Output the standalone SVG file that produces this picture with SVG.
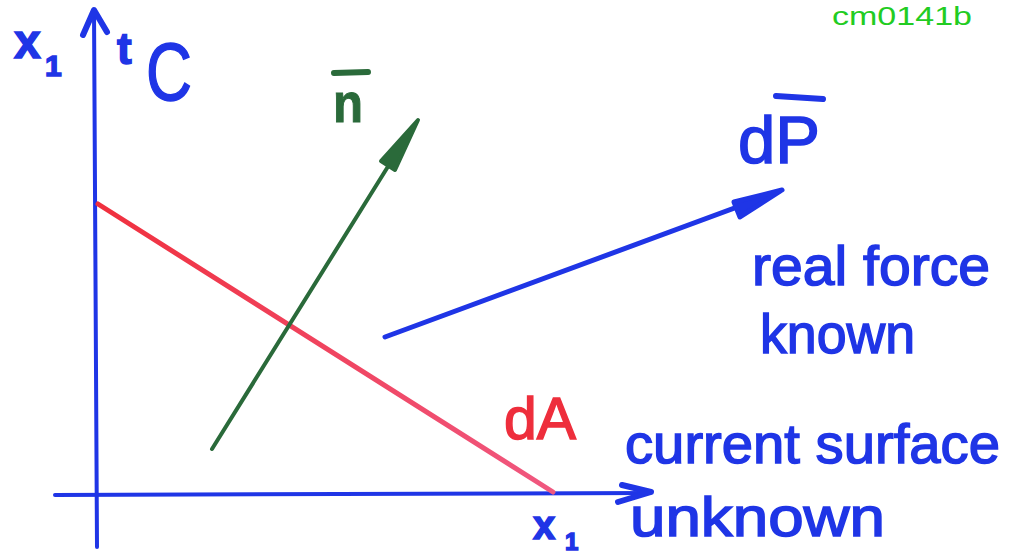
<svg xmlns="http://www.w3.org/2000/svg" width="1010" height="554" viewBox="0 0 1010 554">
<style>
.blue{stroke:#1f35e6;fill:none;stroke-linecap:round;stroke-linejoin:round}
.hw{font-family:"Liberation Sans","DejaVu Sans",sans-serif;fill:#1f35e6;stroke:#1f35e6;stroke-width:1.5}
.red{fill:#ee2e3c;stroke:#ee2e3c}
.grn{fill:#2a6a3a;stroke:#2a6a3a}
</style>
<defs>
  <linearGradient id="redgrad" gradientUnits="userSpaceOnUse" x1="98" y1="204" x2="553" y2="492">
    <stop offset="0" stop-color="#f0303e"/>
    <stop offset="1" stop-color="#f05880"/>
  </linearGradient>
</defs>
<rect width="1010" height="554" fill="#ffffff"/>
<g id="connectors">
  <g id="axis-vertical">
    <line class="blue" x1="97" y1="547" x2="94" y2="10" stroke-width="4"/>
    <polyline class="blue" points="83,35 94,10 107,32" stroke-width="6"/>
  </g>
  <g id="axis-horizontal">
    <line class="blue" x1="55" y1="495" x2="650" y2="493" stroke-width="4"/>
    <polyline class="blue" points="622,485 651,492 618,502" stroke-width="6"/>
  </g>
  <g id="surface-dA">
    <line x1="98" y1="204" x2="553" y2="492" stroke="url(#redgrad)" stroke-width="5" stroke-linecap="round"/>
  </g>
  <g id="normal-n">
    <line x1="212" y1="449" x2="412" y2="128" stroke="#2a6a3a" stroke-width="4" stroke-linecap="round"/>
    <polygon points="418,120 381,161 395,170" fill="#2a6a3a" stroke="#2a6a3a" stroke-width="4" stroke-linejoin="round"/>
  </g>
  <g id="force-dP">
    <line class="blue" x1="385" y1="337" x2="778" y2="192" stroke-width="5"/>
    <polygon points="782,190 734,202 740,217" fill="#1f35e6" stroke="#1f35e6" stroke-width="5" stroke-linejoin="round"/>
  </g>
</g>
<g id="label-x1-top">
  <text class="hw" x="14" y="58" font-size="48" font-weight="bold">x</text>
  <text class="hw" x="45" y="76" font-size="30" font-weight="bold">1</text>
</g>
<g id="label-tC">
  <text class="hw" x="117" y="64" font-size="44" font-weight="bold">t</text>
  <text class="hw" x="146" y="100" font-size="82" textLength="46" lengthAdjust="spacingAndGlyphs">C</text>
</g>
<g id="label-n">
  <text x="333" y="122" font-size="56" font-weight="bold" font-family="Liberation Sans,sans-serif" class="grn" stroke-width="1" textLength="30" lengthAdjust="spacingAndGlyphs">n</text>
  <line x1="334" y1="73" x2="368" y2="72" stroke="#2a6a3a" stroke-width="6" stroke-linecap="round"/>
</g>
<g id="label-dP">
  <text class="hw" x="738" y="163" font-size="66" textLength="82" lengthAdjust="spacingAndGlyphs">dP</text>
  <line class="blue" x1="776" y1="96" x2="823" y2="99" stroke-width="6"/>
</g>
<g id="label-real-force">
  <text class="hw" x="752" y="285" font-size="56" textLength="238" lengthAdjust="spacingAndGlyphs">real force</text>
  <text class="hw" x="760" y="353" font-size="56" textLength="155" lengthAdjust="spacingAndGlyphs">known</text>
</g>
<g id="label-dA">
  <text x="504" y="439" font-size="60" font-family="Liberation Sans,sans-serif" class="red" stroke-width="1.5" textLength="72" lengthAdjust="spacingAndGlyphs">dA</text>
</g>
<g id="label-current-surface">
  <text class="hw" x="625" y="463" font-size="56" textLength="375" lengthAdjust="spacingAndGlyphs">current surface</text>
  <text class="hw" x="630" y="536" font-size="56" textLength="255" lengthAdjust="spacingAndGlyphs">unknown</text>
</g>
<g id="label-x1-bottom">
  <text class="hw" x="533" y="539" font-size="40" font-weight="bold">x</text>
  <text class="hw" x="565" y="550" font-size="24" font-weight="bold">1</text>
</g>
<text x="832" y="25" font-family="Liberation Sans,Arial,sans-serif" font-size="26" fill="#22cc22" textLength="140" lengthAdjust="spacingAndGlyphs">cm0141b</text>
</svg>
